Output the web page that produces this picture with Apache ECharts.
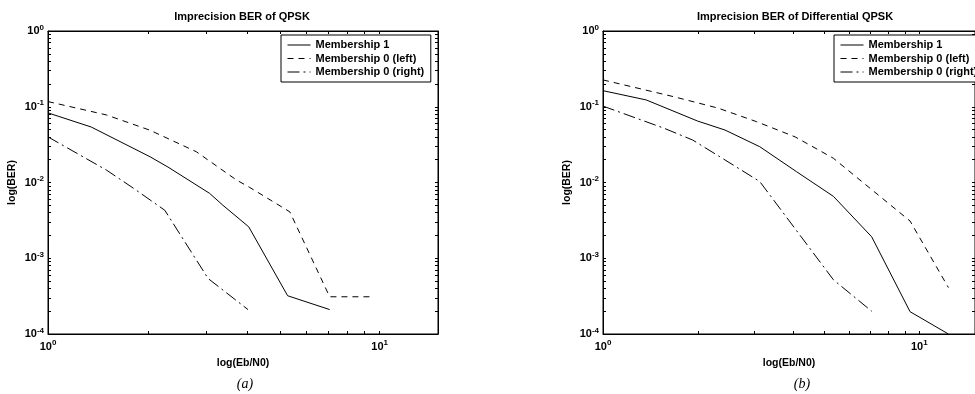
<!DOCTYPE html>
<html>
<head>
<meta charset="utf-8">
<script src="https://cdn.jsdelivr.net/npm/echarts@6/dist/echarts.min.js"></script>
<style>html,body{margin:0;padding:0;background:#fff}#c{width:975px;height:394px}</style>
</head>
<body>
<div id="c"></div>
<script>
// ---- data ----
const seriesNames = ['Membership 1', 'Membership 0 (left)', 'Membership 0 (right)'];
// (a) QPSK
const xA1 = [1, 1.35, 2.03, 2.30, 3.07, 3.37, 4.03, 5.28, 7.07];
const yA1 = [0.083, 0.054, 0.0219, 0.016, 0.0072, 0.0050, 0.0026, 0.00032, 0.00021];
const xA2 = [1, 1.50, 2.03, 2.80, 3.70, 4.06, 5.36, 7.07, 9.44];
const yA2 = [0.117, 0.078, 0.049, 0.0255, 0.0108, 0.0086, 0.0041, 0.00031, 0.00031];
const xA3 = [1, 1.50, 1.81, 2.25, 3.04, 4.01];
const yA3 = [0.040, 0.0146, 0.0084, 0.0043, 0.00054, 0.00021];
// (b) Differential QPSK
const xB1 = [1, 1.37, 1.99, 2.43, 3.13, 4.09, 5.35, 7.07, 9.35, 12.36];
const yB1 = [0.163, 0.123, 0.0648, 0.0493, 0.0297, 0.0139, 0.00657, 0.00192, 0.000197, 0.0001];
const xB2 = [1, 1.67, 2.31, 3.06, 4.05, 5.35, 9.35, 12.36];
const yB2 = [0.226, 0.136, 0.096, 0.0635, 0.040, 0.0209, 0.0031, 0.00041];
const xB3 = [1, 1.56, 1.92, 2.34, 3.13, 5.35, 7.07];
const yB3 = [0.102, 0.052, 0.0364, 0.0219, 0.0103, 0.00052, 0.0002];
// axis ticks
const xTickValues = [1, 2, 3, 4, 5, 6, 7, 8, 9, 10];
const xLabelValues = [1, 10];
const yLabelValues = [1e-4, 1e-3, 1e-2, 1e-1, 1];
const titles = ['Imprecision BER of QPSK', 'Imprecision BER of Differential QPSK'];
const captions = ['(a)', '(b)'];
const xName = 'log(Eb/N0)';
const yName = 'log(BER)';

// ---- build ----
const FONT = 'Liberation Sans';
const yTickValues = [];
for (let k = -4; k <= -1; k++) for (let m = 1; m <= 9; m++) yTickValues.push(+(m * Math.pow(10, k)).toPrecision(3));
yTickValues.push(1);

const pairs = (xs, ys) => xs.map((x, i) => [x, ys[i]]);
const dashTypes = ['solid', [6, 5], [12, 4, 2, 4]];

function supFmt(v) {
  const e = Math.round(Math.log10(v));
  return '{b|10}{s|' + e + '}';
}
const richLab = {
  b: { fontSize: 11, fontWeight: 'bold', fontFamily: FONT, color: '#000' },
  s: { fontSize: 8, fontWeight: 'bold', fontFamily: FONT, color: '#000', padding: [0, 0, 7, 0] }
};

const grids = [
  { left: 48, top: 31, width: 390, height: 303 },
  { left: 603, top: 31, width: 388, height: 303 }
];

const xAxes = [], yAxes = [], series = [], legends = [], graphics = [];
grids.forEach((g, gi) => {
  g.show = true; g.borderColor = '#000'; g.borderWidth = 1; g.backgroundColor = '#fff';
  const tick = (vals) => ({ show: true, inside: true, length: 3, customValues: vals, lineStyle: { color: '#000', width: 1 } });
  xAxes.push({
    type: 'log', logBase: 10, gridIndex: gi, min: 1, max: 15, position: 'bottom',
    axisLine: { show: true, lineStyle: { color: '#000' } },
    axisTick: tick(xTickValues),
    axisLabel: { customValues: xLabelValues, formatter: supFmt, rich: richLab, margin: 5 },
    splitLine: { show: false },
    name: xName, nameLocation: 'middle', nameGap: 24,
    nameTextStyle: { fontFamily: FONT, fontSize: 10.5, fontWeight: 'bold', color: '#000' }
  });
  xAxes.push({
    type: 'log', logBase: 10, gridIndex: gi, min: 1, max: 15, position: 'top',
    axisLine: { show: true, lineStyle: { color: '#000' } },
    axisTick: tick(xTickValues), axisLabel: { show: false }, splitLine: { show: false }
  });
  yAxes.push({
    type: 'log', logBase: 10, gridIndex: gi, min: 1e-4, max: 1, position: 'left',
    axisLine: { show: true, lineStyle: { color: '#000' } },
    axisTick: tick(yTickValues),
    axisLabel: { customValues: yLabelValues, formatter: supFmt, rich: richLab, margin: 4 },
    splitLine: { show: false },
    name: yName, nameLocation: 'middle', nameGap: 30, nameRotate: 90,
    nameTextStyle: { fontFamily: FONT, fontSize: 10.5, fontWeight: 'bold', color: '#000' }
  });
  yAxes.push({
    type: 'log', logBase: 10, gridIndex: gi, min: 1e-4, max: 1, position: 'right',
    axisLine: { show: true, lineStyle: { color: '#000' } },
    axisTick: tick(yTickValues), axisLabel: { show: false }, splitLine: { show: false }
  });
});

const dataSets = [
  [pairs(xA1, yA1), pairs(xA2, yA2), pairs(xA3, yA3)],
  [pairs(xB1, yB1), pairs(xB2, yB2), pairs(xB3, yB3)]
];
dataSets.forEach((set, gi) => {
  set.forEach((d, si) => {
    series.push({
      type: 'line', name: seriesNames[si], data: d,
      xAxisIndex: gi * 2, yAxisIndex: gi * 2,
      symbol: 'none', silent: true, animation: false,
      lineStyle: { color: '#000', width: 1, type: dashTypes[si] },
      itemStyle: { color: '#000' }
    });
  });
});

[281, 834].forEach((lx) => {
  legends.push({
    left: lx, top: 35, orient: 'vertical', selectedMode: false,
    data: seriesNames, itemWidth: 23, itemHeight: 10, itemGap: 2.5,
    padding: [4.5, 6.5, 4.5, 6], borderColor: '#000', borderWidth: 1, backgroundColor: '#fff',
    itemStyle: { opacity: 0, borderWidth: 0 },
    lineStyle: { width: 1 },
    textStyle: { fontFamily: FONT, fontSize: 11, fontWeight: 'bold', color: '#000' }
  });
});

const titleX = [242, 795];
const capX = [245, 802];
titleX.forEach((tx, i) => {
  graphics.push({ type: 'text', x: tx, y: 17, style: { text: titles[i], font: 'bold 11px "Liberation Sans"', fill: '#000', align: 'center', verticalAlign: 'middle' } });
  graphics.push({ type: 'text', x: capX[i], y: 384, style: { text: captions[i], font: 'italic 14px "Liberation Serif"', fill: '#000', align: 'center', verticalAlign: 'middle' } });
});

const chart = echarts.init(document.getElementById('c'), null, { renderer: 'canvas' });
chart.setOption({
  animation: false,
  backgroundColor: '#fff',
  grid: grids, xAxis: xAxes, yAxis: yAxes, series: series, legend: legends, graphic: graphics
});
</script>
</body>
</html>
